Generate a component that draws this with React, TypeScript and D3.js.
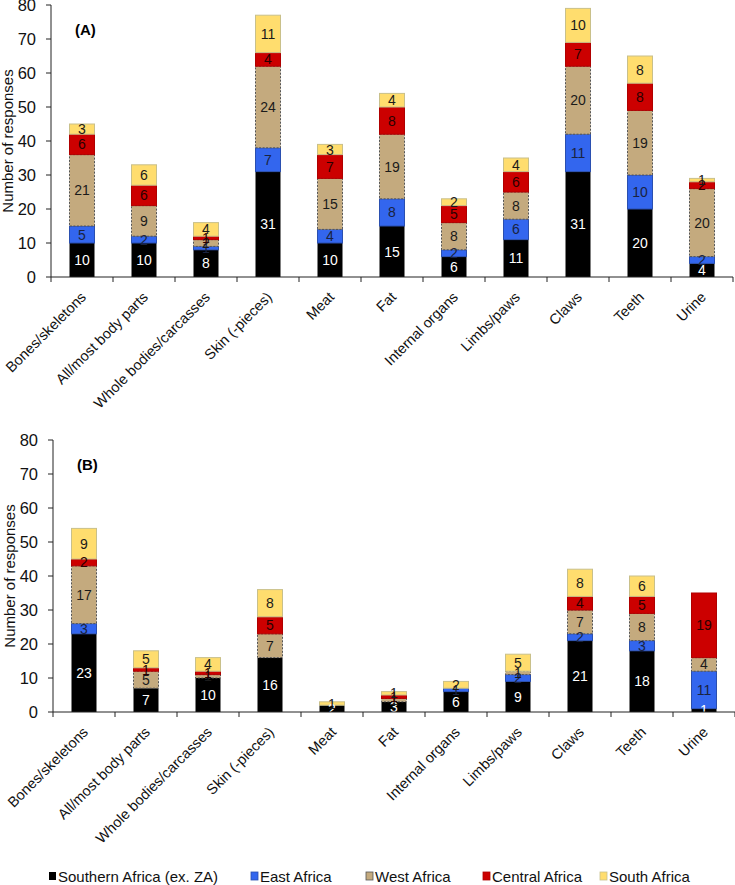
import React from "react";
import * as d3 from "d3";

const categories = [
  "Bones/skeletons",
  "All/most body parts",
  "Whole bodies/carcasses",
  "Skin (-pieces)",
  "Meat",
  "Fat",
  "Internal organs",
  "Limbs/paws",
  "Claws",
  "Teeth",
  "Urine",
];
const seriesNames = [
  "Southern Africa (ex. ZA)",
  "East Africa",
  "West Africa",
  "Central Africa",
  "South Africa",
];
const yTicks = [0, 10, 20, 30, 40, 50, 60, 70, 80];

// Panel A
const southernA = [10, 10, 8, 31, 10, 15, 6, 11, 31, 20, 4];
const eastA = [5, 2, 1, 7, 4, 8, 2, 6, 11, 10, 2];
const westA = [21, 9, 2, 24, 15, 19, 8, 8, 20, 19, 20];
const centralA = [6, 6, 1, 4, 7, 8, 5, 6, 7, 8, 2];
const southA = [3, 6, 4, 11, 3, 4, 2, 4, 10, 8, 1];

// Panel B
const southernB = [23, 7, 10, 16, 2, 3, 6, 9, 21, 18, 1];
const eastB = [3, 0, 0, 0, 0, 0, 1, 2, 2, 3, 11];
const westB = [17, 5, 1, 7, 0, 1, 0, 1, 7, 8, 4];
const centralB = [2, 1, 1, 5, 0, 1, 0, 0, 4, 5, 19];
const southB = [9, 5, 4, 8, 1, 1, 2, 5, 8, 6, 0];

const fills = ["#000000", "#3366ee", "#c4aa7e", "#cc0000", "#ffdd6e"];
const strokes = ["#000000", "#2a4fb0", "#555555", "#b00000", "#c9c08a"];
const dashes = ["", "", "2,1.5", "", ""];
const textColors = ["#ffffff", "#1a2340", "#1a1a1a", "#2a0000", "#1a1a1a"];

const FONT = "Arial, 'Liberation Sans', sans-serif";

function buildRows(series: number[][]) {
  return categories.map((c, i) => {
    const row: Record<string, any> = { cat: c };
    seriesNames.forEach((s, k) => (row[s] = series[k][i]));
    return row;
  });
}

function Panel({
  series,
  label,
  x0,
  yTop,
  yBottom,
}: {
  series: number[][];
  label: string;
  x0: number;
  yTop: number;
  yBottom: number;
}) {
  const x1 = x0 + 682;
  const x = d3.scaleBand<string>().domain(categories).range([x0, x1]).paddingInner(0).paddingOuter(0);
  const y = d3.scaleLinear().domain([0, 80]).range([yBottom, yTop]);
  const stack = d3.stack<any>().keys(seriesNames);
  const layers = stack(buildRows(series));
  const bw = 25;
  const step = x.step();
  return (
    <g>
      {/* y axis */}
      <line x1={x0} x2={x0} y1={y(80)} y2={y(0)} stroke="#222" strokeWidth={1} />
      {yTicks.map((t) => (
        <g key={t}>
          <line x1={x0 - 5} x2={x0} y1={y(t)} y2={y(t)} stroke="#222" />
          <text x={x0 - 15} y={y(t)} dy="0.36em" textAnchor="end" fontSize={16.5} fontFamily={FONT} fill="#111">
            {t}
          </text>
        </g>
      ))}
      <text
        transform={`translate(${x0 - 38},${(y(0) + y(80)) / 2}) rotate(-90)`}
        textAnchor="middle"
        fontSize={15}
        fontFamily={FONT}
        fill="#111"
      >
        Number of responses
      </text>
      {/* bars */}
      {layers.map((layer, k) => (
        <g key={k}>
          {layer.map((d, i) => {
            const v = d[1] - d[0];
            if (v <= 0) return null;
            const cx = (x(categories[i]) as number) + step / 2;
            return (
              <rect
                key={i}
                x={cx - bw / 2}
                y={y(d[1])}
                width={bw}
                height={y(d[0]) - y(d[1])}
                fill={fills[k]}
                stroke={strokes[k]}
                strokeWidth={k === 0 ? 0 : 1}
                strokeDasharray={dashes[k]}
              />
            );
          })}
        </g>
      ))}
      {layers.map((layer, k) => (
        <g key={"t" + k}>
          {layer.map((d, i) => {
            const v = d[1] - d[0];
            if (v <= 0) return null;
            const cx = (x(categories[i]) as number) + step / 2;
            return (
              <text
                key={i}
                x={cx}
                y={(y(d[0]) + y(d[1])) / 2}
                dy="0.36em"
                textAnchor="middle"
                fontSize={14}
                fontFamily={FONT}
                fill={textColors[k]}
              >
                {v}
              </text>
            );
          })}
        </g>
      ))}
      {/* x axis */}
      <line x1={x0} x2={x1} y1={y(0)} y2={y(0)} stroke="#222" />
      {categories.map((c, i) => (
        <line
          key={"tk" + i}
          x1={x(c) as number}
          x2={x(c) as number}
          y1={y(0)}
          y2={y(0) + 5}
          stroke="#222"
        />
      ))}
      <line x1={x1} x2={x1} y1={y(0)} y2={y(0) + 5} stroke="#222" />
      {categories.map((c, i) => {
        const cx = (x(c) as number) + step / 2;
        return (
          <text
            key={"lb" + i}
            transform={`translate(${cx + 5},${y(0) + 21}) rotate(-45)`}
            textAnchor="end"
            fontSize={14.5}
            fontFamily={FONT}
            fill="#111"
          >
            {c}
          </text>
        );
      })}
      <text x={x0 + 24} y={y(80) + 30} fontSize={15} fontWeight="bold" fontFamily={FONT} fill="#000">
        {label}
      </text>
    </g>
  );
}

const legendX = [49, 251, 366, 483, 600];

export default function App() {
  const seriesA = [southernA, eastA, westA, centralA, southA];
  const seriesB = [southernB, eastB, westB, centralB, southB];
  return (
    <svg
      width={735}
      height={885}
      style={{ position: "absolute", left: 0, top: 0, background: "#fff" }}
      viewBox="0 0 735 885"
    >
      <rect width={735} height={885} fill="#fff" />
      <Panel series={seriesA} label="(A)" x0={51} yTop={5} yBottom={277} />
      <Panel series={seriesB} label="(B)" x0={53} yTop={440} yBottom={712} />
      {seriesNames.map((s, k) => (
        <g key={s}>
          <rect
            x={legendX[k]}
            y={872}
            width={7}
            height={8}
            fill={fills[k]}
            stroke={k === 0 ? "none" : strokes[k]}
            strokeWidth={0.8}
          />
          <text x={legendX[k] + 9} y={877} dy="0.36em" fontSize={15} fontFamily={FONT} fill="#111">
            {s}
          </text>
        </g>
      ))}
    </svg>
  );
}
